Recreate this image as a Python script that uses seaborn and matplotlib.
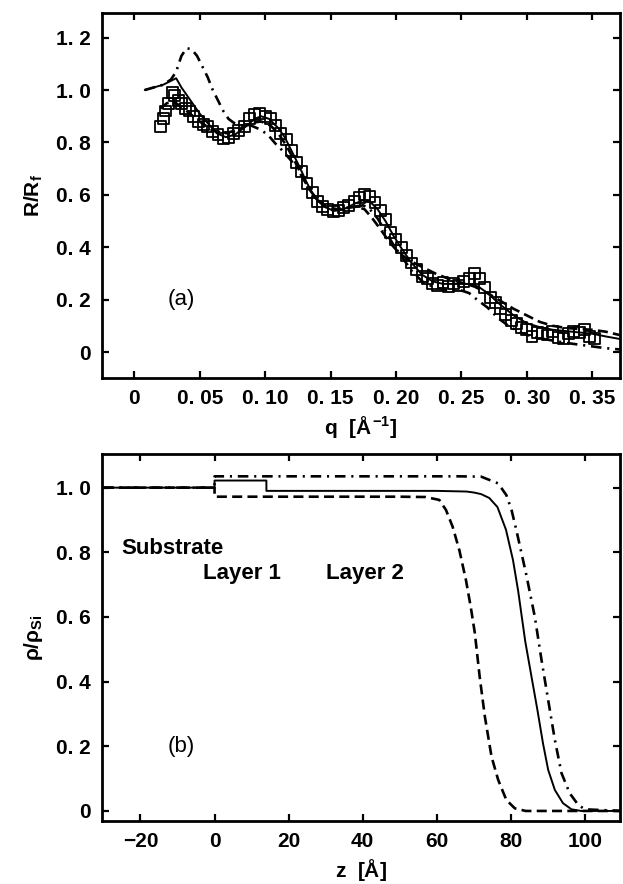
import matplotlib
matplotlib.use('Agg')
import matplotlib.pyplot as plt
import seaborn as sns

# (a) reflectivity data, R/Rf vs q
q_data = [0.020, 0.022, 0.024, 0.026, 0.029, 0.031, 0.034, 0.036, 0.039, 0.042,
          0.045, 0.049, 0.053, 0.056, 0.060, 0.064, 0.068, 0.072, 0.076, 0.080,
          0.084, 0.088, 0.092, 0.096, 0.100, 0.104, 0.108, 0.112, 0.116, 0.120,
          0.124, 0.128, 0.132, 0.136, 0.140, 0.144, 0.148, 0.152, 0.156, 0.160,
          0.164, 0.168, 0.172, 0.176, 0.180, 0.184, 0.188, 0.192, 0.196, 0.200,
          0.204, 0.208, 0.212, 0.216, 0.220, 0.224, 0.228, 0.232, 0.236, 0.240,
          0.244, 0.248, 0.252, 0.256, 0.260, 0.264, 0.268, 0.272, 0.276, 0.280,
          0.284, 0.288, 0.292, 0.296, 0.300, 0.304, 0.308, 0.312, 0.316, 0.320,
          0.324, 0.328, 0.332, 0.336, 0.340, 0.344, 0.348, 0.352]
r_data = [0.86, 0.89, 0.92, 0.95, 0.99, 0.98, 0.96, 0.95, 0.93, 0.92,
          0.90, 0.88, 0.87, 0.86, 0.84, 0.83, 0.815, 0.82, 0.835, 0.845,
          0.86, 0.89, 0.905, 0.91, 0.90, 0.89, 0.865, 0.835, 0.81, 0.77,
          0.725, 0.69, 0.645, 0.61, 0.575, 0.555, 0.545, 0.535, 0.54, 0.55,
          0.56, 0.575, 0.59, 0.60, 0.595, 0.57, 0.54, 0.505, 0.455, 0.43,
          0.40, 0.37, 0.34, 0.315, 0.29, 0.28, 0.26, 0.255, 0.265, 0.25,
          0.26, 0.255, 0.27, 0.28, 0.30, 0.28, 0.245, 0.21, 0.19, 0.165,
          0.145, 0.12, 0.11, 0.095, 0.085, 0.06, 0.075, 0.07, 0.065, 0.08,
          0.055, 0.05, 0.07, 0.08, 0.075, 0.085, 0.06, 0.05]

# fits
q_solid = [0.008, 0.015, 0.022, 0.028, 0.032, 0.036, 0.043, 0.050, 0.055, 0.063,
           0.070, 0.077, 0.085, 0.092, 0.097, 0.103, 0.110, 0.115, 0.120, 0.126,
           0.132, 0.138, 0.145, 0.152, 0.160, 0.168, 0.175, 0.180, 0.186, 0.192,
           0.198, 0.205, 0.212, 0.220, 0.228, 0.236, 0.245, 0.255, 0.263, 0.270,
           0.280, 0.290, 0.300, 0.310, 0.320, 0.330, 0.340, 0.350, 0.360, 0.371]
r_solid = [1.00, 1.01, 1.02, 1.035, 1.045, 1.01, 0.96, 0.91, 0.88, 0.835,
           0.82, 0.83, 0.86, 0.89, 0.90, 0.89, 0.855, 0.82, 0.77, 0.71,
           0.645, 0.59, 0.555, 0.54, 0.545, 0.565, 0.58, 0.575, 0.545, 0.50,
           0.445, 0.39, 0.34, 0.295, 0.27, 0.26, 0.26, 0.26, 0.25, 0.225,
           0.18, 0.14, 0.11, 0.095, 0.085, 0.08, 0.075, 0.07, 0.06, 0.05]

q_dash = [0.020, 0.025, 0.030, 0.035, 0.040, 0.050, 0.060, 0.070, 0.080, 0.090,
          0.097, 0.104, 0.110, 0.116, 0.122, 0.128, 0.134, 0.140, 0.147, 0.155,
          0.163, 0.170, 0.176, 0.182, 0.188, 0.195, 0.202, 0.210, 0.220, 0.230,
          0.240, 0.250, 0.260, 0.270, 0.280, 0.290, 0.300, 0.310, 0.320, 0.330,
          0.340, 0.350, 0.360, 0.371]
r_dash = [0.93, 0.95, 0.955, 0.94, 0.92, 0.88, 0.845, 0.835, 0.85, 0.875,
          0.88, 0.865, 0.835, 0.79, 0.735, 0.675, 0.62, 0.58, 0.555, 0.545,
          0.55, 0.555, 0.545, 0.51, 0.47, 0.42, 0.38, 0.35, 0.325, 0.30,
          0.28, 0.265, 0.25, 0.225, 0.195, 0.165, 0.14, 0.115, 0.10, 0.092,
          0.088, 0.085, 0.078, 0.065]

q_dashdot = [0.008, 0.015, 0.022, 0.028, 0.032, 0.036, 0.040, 0.044, 0.048, 0.052,
             0.056, 0.060, 0.064, 0.068, 0.072, 0.076, 0.082, 0.089, 0.096, 0.102,
             0.108, 0.114, 0.120, 0.127, 0.134, 0.140, 0.146, 0.152, 0.160, 0.168,
             0.175, 0.180, 0.186, 0.192, 0.198, 0.205, 0.212, 0.220, 0.230, 0.240,
             0.250, 0.256, 0.262, 0.270, 0.278, 0.286, 0.295, 0.305, 0.315, 0.330,
             0.345, 0.360, 0.371]
r_dashdot = [1.00, 1.01, 1.02, 1.04, 1.07, 1.13, 1.16, 1.155, 1.13, 1.09,
             1.05, 1.00, 0.96, 0.92, 0.89, 0.875, 0.865, 0.865, 0.85, 0.83,
             0.795, 0.765, 0.73, 0.68, 0.62, 0.58, 0.555, 0.54, 0.545, 0.555,
             0.56, 0.545, 0.51, 0.46, 0.41, 0.36, 0.31, 0.27, 0.245, 0.235,
             0.235, 0.225, 0.20, 0.17, 0.13, 0.10, 0.075, 0.058, 0.048, 0.035,
             0.025, 0.015, 0.01]

# (b) density profiles rho/rho_Si vs z
z_solid = [-30, 0, 0, 14, 14, 60, 68, 70, 72, 74.2, 76.4, 78.7, 80.6, 82,
           83.9, 85.6, 87.2, 88.7, 90.1, 91.9, 94.1, 96.4, 99, 110]
p_solid = [1.0, 1.0, 1.022, 1.022, 0.99, 0.99, 0.988, 0.985, 0.98, 0.968, 0.94, 0.87,
           0.776, 0.68, 0.525, 0.415, 0.312, 0.209, 0.127, 0.065, 0.024,
           0.005, 0.0, 0.0]

z_dash = [-30, 0, 0, 50, 57, 60.7, 62.5, 64.3, 66.1, 67.9, 69.2, 70.3, 71.6, 73,
          74.8, 76.6, 78.8, 81.1, 84, 110]
p_dash = [1.0, 1.0, 0.972, 0.972, 0.971, 0.962, 0.931, 0.879, 0.807, 0.714, 0.63,
          0.55, 0.415, 0.292, 0.168, 0.096, 0.034, 0.008, 0.0, 0.0]

z_dashdot = [-30, 0, 0, 66, 72, 76.6, 78.8, 80.2, 81.5, 82.9, 84.2, 86.5, 88.3,
             90.1, 91.9, 93.7, 95.9, 98.2, 100, 110]
p_dashdot = [1.0, 1.0, 1.035, 1.035, 1.034, 1.013, 0.977, 0.931, 0.869, 0.797, 0.73,
             0.60, 0.467, 0.343, 0.22, 0.117, 0.055, 0.019, 0.005, 0.0]

q_ticks = [0, 0.05, 0.10, 0.15, 0.20, 0.25, 0.30, 0.35]
q_tick_labels = ['0', '0. 05', '0. 10', '0. 15', '0. 20', '0. 25', '0. 30', '0. 35']
r_ticks = [0, 0.2, 0.4, 0.6, 0.8, 1.0, 1.2]
r_tick_labels = ['0', '0. 2', '0. 4', '0. 6', '0. 8', '1. 0', '1. 2']
z_ticks = [-20, 0, 20, 40, 60, 80, 100]
z_tick_labels = ['\u221220', '0', '20', '40', '60', '80', '100']
p_ticks = [0, 0.2, 0.4, 0.6, 0.8, 1.0]
p_tick_labels = ['0', '0. 2', '0. 4', '0. 6', '0. 8', '1. 0']

sns.set_style('ticks')
plt.rcParams['font.family'] = ['Liberation Sans', 'DejaVu Sans']
plt.rcParams['mathtext.fontset'] = 'custom'
plt.rcParams['mathtext.rm'] = 'Liberation Sans:bold'
plt.rcParams['mathtext.it'] = 'Liberation Sans:bold'
plt.rcParams['mathtext.bf'] = 'Liberation Sans:bold'
for key in ['text.color', 'axes.labelcolor', 'xtick.color', 'ytick.color', 'axes.edgecolor']:
    plt.rcParams[key] = 'black'

fig = plt.figure(figsize=(6.23, 8.84), dpi=100)
ax1 = fig.add_axes([0.1637, 0.5724, 0.8315, 0.4129])
ax2 = fig.add_axes([0.1637, 0.0713, 0.8315, 0.4151])

dash = (0, (3.8, 2.0))
dashdot = (0, (4.0, 2.2, 0.8, 2.2))

# top panel
sns.lineplot(x=q_solid, y=r_solid, ax=ax1, color='black', lw=1.4, sort=False, estimator=None)
sns.lineplot(x=q_dash, y=r_dash, ax=ax1, color='black', lw=1.9, linestyle=dash,
             sort=False, estimator=None)
sns.lineplot(x=q_dashdot, y=r_dashdot, ax=ax1, color='black', lw=1.9, linestyle=dashdot,
             sort=False, estimator=None)
sns.scatterplot(x=q_data, y=r_data, ax=ax1, marker='s', s=62, facecolors='none',
                edgecolors='black', linewidth=1.3, zorder=3)

ax1.set_xlim(-0.0247, 0.3713)
ax1.set_ylim(-0.099, 1.294)
ax1.set_xticks(q_ticks)
ax1.set_xticklabels(q_tick_labels)
ax1.set_yticks(r_ticks)
ax1.set_yticklabels(r_tick_labels)
ax1.set_xlabel(r'q  [$\AA^{-1}$]', fontsize=15, fontweight='bold', labelpad=4)
ax1.set_ylabel(r'R/R$_\mathbf{f}$', fontsize=15, fontweight='bold', labelpad=8)
ax1.text(0.036, 0.2, '(a)', fontsize=16, ha='center', va='center')

# bottom panel
sns.lineplot(x=z_solid, y=p_solid, ax=ax2, color='black', lw=1.4, sort=False, estimator=None)
sns.lineplot(x=z_dash, y=p_dash, ax=ax2, color='black', lw=1.9, linestyle=dash,
             sort=False, estimator=None)
sns.lineplot(x=z_dashdot, y=p_dashdot, ax=ax2, color='black', lw=1.9, linestyle=dashdot,
             sort=False, estimator=None)

ax2.set_xlim(-30.4, 109.5)
ax2.set_ylim(-0.031, 1.104)
ax2.set_xticks(z_ticks)
ax2.set_xticklabels(z_tick_labels)
ax2.set_yticks(p_ticks)
ax2.set_yticklabels(p_tick_labels)
ax2.set_xlabel(r'z  [$\AA$]', fontsize=15, fontweight='bold', labelpad=4)
ax2.set_ylabel(r'$\rho$/$\rho_\mathbf{Si}$', fontsize=15, fontweight='bold', labelpad=8)
ax2.text(-25.1, 0.813, 'Substrate', fontsize=16, fontweight='bold', ha='left', va='center')
ax2.text(-3.2, 0.735, 'Layer 1', fontsize=16, fontweight='bold', ha='left', va='center')
ax2.text(30.1, 0.735, 'Layer 2', fontsize=16, fontweight='bold', ha='left', va='center')
ax2.text(-9, 0.2, '(b)', fontsize=16, ha='center', va='center')

for ax in (ax1, ax2):
    ax.tick_params(direction='in', top=True, right=True, length=5, width=1.6,
                   labelsize=15, pad=8)
    for lab in ax.get_xticklabels() + ax.get_yticklabels():
        lab.set_fontweight('bold')
    for sp in ax.spines.values():
        sp.set_linewidth(2.0)
        sp.set_color('black')

plt.savefig('out.png', dpi=100)
